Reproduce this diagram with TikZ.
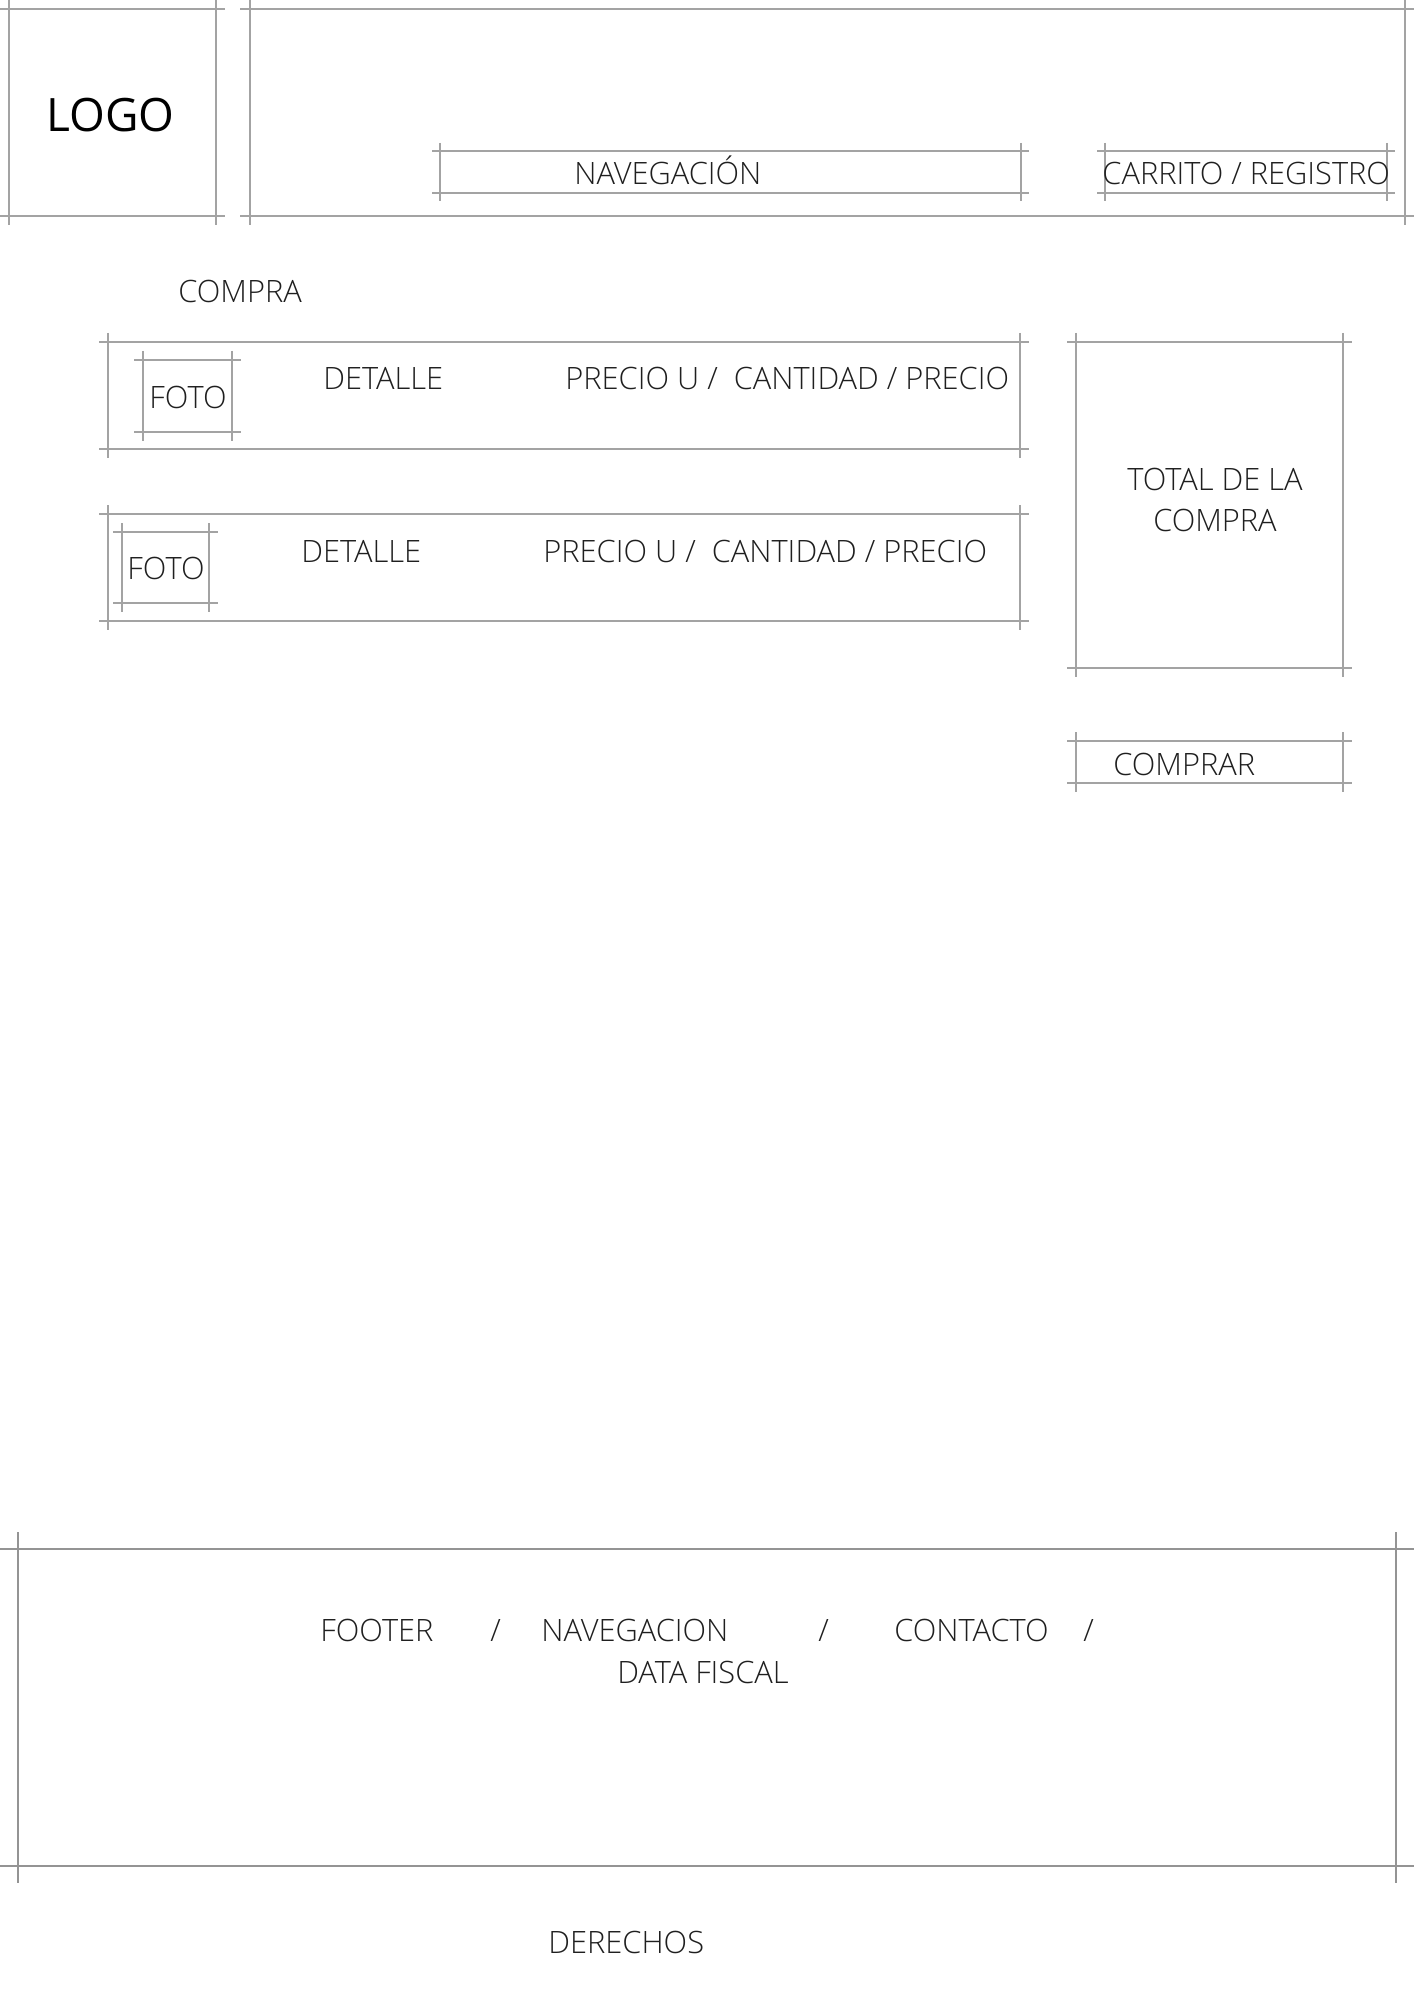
\documentclass[tikz,border=0pt]{standalone}
\usepackage{fontspec}
\setmainfont{Open Sans}[UprightFont={* Light}]
\newfontfamily\regfont{Open Sans}
\newcommand\wfbox[5]{%
  % #1 x1, #2 y1, #3 x2, #4 y2, #5 extension
  \draw[wfline] (#1-#5,#2) -- (#3+#5,#2);
  \draw[wfline] (#1-#5,#4) -- (#3+#5,#4);
  \draw[wfline] (#1,#2-#5) -- (#1,#4+#5);
  \draw[wfline] (#3,#2-#5) -- (#3,#4+#5);
}
\tikzset{
  wfline/.style={draw=black!36, line width=0.75pt},
  wfthick/.style={draw=black!42, line width=1.1pt},
  lbl/.style={inner sep=0pt, anchor=base west, font=\fontsize{15.4pt}{17pt}\selectfont, text=black!88},
  clbl/.style={lbl, anchor=base},
}
\begin{document}
\begin{tikzpicture}[x=0.5pt, y=-0.5pt]
\useasboundingbox[fill=white] (0,0) rectangle (1414,2000);
% header
\wfbox{9}{9}{216}{216}{9}
\draw[wfline] (240,9) -- (1414,9);
\draw[wfline] (240,216) -- (1414,216);
\draw[wfline] (250,0) -- (250,225);
\draw[wfline] (1405,0) -- (1405,225);
\node[lbl, font=\regfont\fontsize{23pt}{26pt}\selectfont, text=black] (logo) at (46,132) {LOGO};
\wfbox{440}{151}{1021}{193}{8}
\node[lbl] (nav) at (574,185) {NAVEGACIÓN};
\wfbox{1105}{151}{1387}{193}{8}
\node[lbl] (cart) at (1102,185) {CARRITO / REGISTRO};
% compra
\node[lbl] (compra) at (178,303) {COMPRA};
% row 1
\wfbox{108}{342}{1020}{449}{9}
\wfbox{143}{360}{232}{432}{9}
\node[lbl] (foto1) at (149,409) {FOTO};
\node[lbl] (det1) at (323,390) {DETALLE};
\node[lbl] (prec1) at (565,390) {PRECIO U /\ \ CANTIDAD / PRECIO};
% row 2
\wfbox{108}{514}{1020}{621}{9}
\wfbox{122}{532}{209}{603}{9}
\node[lbl] (foto2) at (127,579) {FOTO};
\node[lbl] (det2) at (301,562) {DETALLE};
\node[lbl] (prec2) at (543,562) {PRECIO U /\ \ CANTIDAD / PRECIO};
% total
\wfbox{1076}{342}{1343}{668}{9}
\node[clbl] (tot1) at (1215,490) {TOTAL DE LA};
\node[clbl] (tot2) at (1215,531) {COMPRA};
% comprar
\wfbox{1076}{741}{1343}{783}{9}
\node[lbl] (buy) at (1113,775) {COMPRAR};
% footer
\draw[wfthick] (0,1549) -- (1414,1549);
\draw[wfthick] (0,1866) -- (1414,1866);
\draw[wfthick] (18,1532) -- (18,1883);
\draw[wfthick] (1396,1532) -- (1396,1883);
\node[lbl] (f1) at (320,1641) {FOOTER};
\node[lbl] (s1) at (490,1641) {/};
\node[lbl] (f2) at (541,1641) {NAVEGACION};
\node[lbl] (s2) at (818,1641) {/};
\node[lbl] (f3) at (894,1641) {CONTACTO};
\node[lbl] (s3) at (1083,1641) {/};
\node[clbl] (f4) at (703,1683) {DATA FISCAL};
% derechos
\node[lbl] (der) at (548,1953) {DERECHOS};
\end{tikzpicture}
\end{document}
